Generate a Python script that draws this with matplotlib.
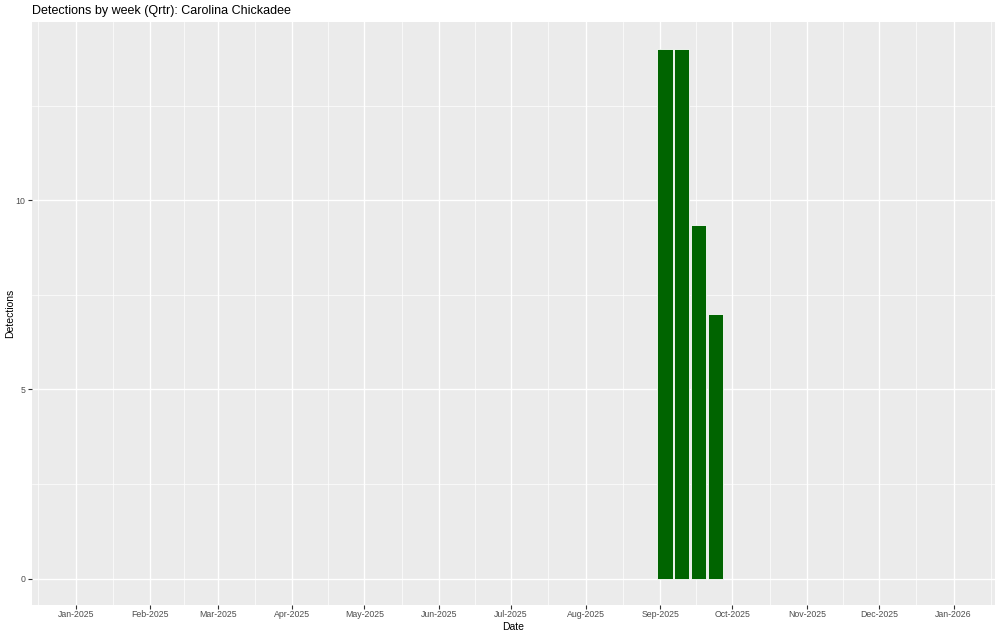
import datetime as dt
import matplotlib
matplotlib.use("Agg")
import matplotlib.pyplot as plt
import matplotlib.dates as mdates

# weekly detection counts (bar centres)
weekDates = [dt.date(2025, 9, 3), dt.date(2025, 9, 10), dt.date(2025, 9, 17), dt.date(2025, 9, 24)]
detections = [14, 14, 9.33, 7]
yTicks = [0, 5, 10]
monthTicks = [dt.date(2025 + (m // 12), m % 12 + 1, 1) for m in range(13)]

plt.rcParams['font.family'] = ['Liberation Sans', 'DejaVu Sans']

fig = plt.figure(figsize=(10, 6.36), dpi=100)
ax = fig.add_axes([0.032, 0.0487, 0.963, 0.9163])
ax.set_facecolor('#EBEBEB')

# bars: ggplot default width is 0.9 * one week
ax.bar(weekDates, detections, width=6.3, color='#006400', edgecolor='white', linewidth=0.6, zorder=3)

# scales with 5% expansion like ggplot (limits Jan 1 - Dec 31)
xmin = mdates.date2num(dt.date(2025, 1, 1))
xmax = mdates.date2num(dt.date(2025, 12, 31))
pad = (xmax - xmin) * 0.05
ax.set_xlim(xmin - pad, xmax + pad)
ax.set_ylim(-0.7, 14.7)

xt = [mdates.date2num(d) for d in monthTicks]
ax.set_xticks(xt)
ax.set_xticklabels([d.strftime('%b-%Y') for d in monthTicks])
ax.set_yticks(yTicks)
ax.set_yticklabels([str(v) for v in yTicks])

# minor grid halfway between majors, including outside the outer ticks
minorX = [(a + b) / 2 for a, b in zip(xt[:-1], xt[1:])]
minorX = [xt[0] - 15.5] + minorX + [xt[-1] + 15.5]
ax.set_xticks(minorX, minor=True)
ax.set_yticks([2.5, 7.5, 12.5], minor=True)
ax.grid(which='major', color='white', linewidth=1.0, zorder=0)
ax.grid(which='minor', color='white', linewidth=0.5, zorder=0)
ax.set_axisbelow(True)

for s in ax.spines.values():
    s.set_visible(False)
ax.tick_params(which='major', length=3, width=0.8, color='#333333', labelsize=6.3, labelcolor='#4D4D4D', pad=2)
ax.tick_params(axis='x', which='major', pad=0.8)
ax.tick_params(which='minor', length=0)

ax.set_xlabel('Date', fontsize=7.5)
ax.set_ylabel('Detections', fontsize=7.5)
ax.xaxis.set_label_coords(0.5, -0.0285)
ax.yaxis.set_label_coords(-0.0177, 0.5)
ax.set_title('Detections by week (Qrtr): Carolina Chickadee', fontsize=9, loc='left', pad=6)

fig.savefig('out.png', dpi=100)
